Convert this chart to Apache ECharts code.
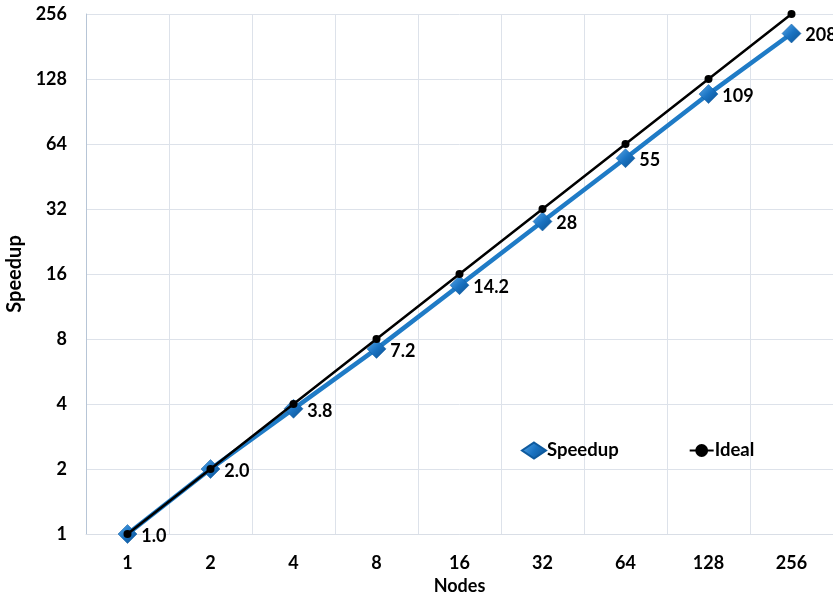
<!DOCTYPE html>
<html><head><meta charset="utf-8">
<script src="https://cdn.jsdelivr.net/npm/echarts@6/dist/echarts.min.js"></script>
<style>html,body{margin:0;padding:0;background:#fff}#c{width:833px;height:595px}</style>
</head><body><div id="c"></div>
<script>
const nodes = ['1','2','4','8','16','32','64','128','256'];
const speedup = [1.0, 2.0, 3.8, 7.2, 14.2, 28, 55, 109, 208];
const speedupLabels = ['1.0','2.0','3.8','7.2','14.2','28','55','109','208'];
const ideal = [1, 2, 4, 8, 16, 32, 64, 128, 256];
const yTicks = [1, 2, 4, 8, 16, 32, 64, 128, 256];

const font = 'Lato, "Open Sans", sans-serif';
const chart = echarts.init(document.getElementById('c'));
const diamondFill = new echarts.graphic.LinearGradient(0, 0, 1, 1, [
  {offset: 0, color: '#5aa9ea'}, {offset: 0.5, color: '#1a73c2'}, {offset: 1, color: '#0b4f8f'}
]);
chart.setOption({
  animation: false,
  textStyle: {fontFamily: font},
  grid: {left: 86, right: 0, top: 14, bottom: 61, containLabel: false, outerBoundsMode: 'none'},
  legend: {
    left: 516, top: 436, itemGap: 70, itemWidth: 24, itemHeight: 16,
    textStyle: {fontFamily: font, fontWeight: 'bold', fontSize: 18.5, color: '#000', padding: [0,0,0,-4]},
    data: [
      {name: 'Speedup', icon: 'diamond', itemStyle: {color: diamondFill}},
      {name: 'Ideal', itemStyle: {color: '#000'}}
    ]
  },
  xAxis: {
    type: 'category', data: nodes, boundaryGap: true,
    name: 'Nodes', nameLocation: 'middle', nameGap: 43,
    nameTextStyle: {fontFamily: font, fontWeight: 'bold', fontSize: 18, color: '#000'},
    axisLine: {show: true, lineStyle: {color: '#d9dee6', width: 1}},
    axisTick: {show: false},
    axisLabel: {fontFamily: font, fontWeight: 'bold', fontSize: 18, color: '#000', margin: 20},
    splitLine: {show: true, lineStyle: {color: '#dde2ea', width: 1}}
  },
  yAxis: {
    type: 'log', logBase: 2, min: 1, max: 256,
    name: 'Speedup', nameLocation: 'middle', nameGap: 56, nameRotate: 90,
    nameTextStyle: {fontFamily: font, fontWeight: 'bold', fontSize: 20, color: '#000'},
    axisLine: {show: true, lineStyle: {color: '#b7c5d6', width: 1}},
    axisTick: {show: false},
    axisLabel: {fontFamily: font, fontWeight: 'bold', fontSize: 18, color: '#000', margin: 19,
      formatter: v => { const r = yTicks.find(t => Math.abs(t - v) < 1e-6); return r === undefined ? '' : String(r); }},
    splitLine: {show: true, lineStyle: {color: '#dde2ea', width: 1}}
  },
  series: [
    {
      name: 'Speedup', type: 'line', data: speedup, z: 2,
      symbol: 'diamond', symbolSize: 19,
      lineStyle: {color: '#1f7bc6', width: 4.5},
      itemStyle: {color: diamondFill, borderColor: '#0e5a9e', borderWidth: 0.5},
      label: {show: true, position: 'right', distance: 4, fontFamily: font, fontWeight: 'bold', fontSize: 18, color: '#000',
        offset: [0, 2],
        formatter: p => speedupLabels[p.dataIndex]}
    },
    {
      name: 'Ideal', type: 'line', data: ideal, z: 3,
      symbol: 'circle', symbolSize: 8,
      lineStyle: {color: '#000', width: 2.5},
      itemStyle: {color: '#000'}
    }
  ]
});
</script></body></html>
